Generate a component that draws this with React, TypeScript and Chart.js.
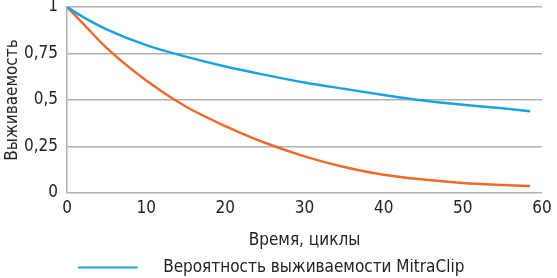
import React, { useEffect, useRef } from "react";
import { Chart, registerables } from "chart.js";

Chart.register(...registerables);

const timeCycles = [0, 2, 5, 10, 15, 20, 25, 30, 35, 40, 45, 50, 55, 58.5];
const mitraClipSurvival = [1, 0.947, 0.88, 0.795, 0.733, 0.68, 0.635, 0.594, 0.56, 0.527, 0.497, 0.474, 0.455, 0.44];
const otherSurvival = [1, 0.912, 0.78, 0.605, 0.465, 0.36, 0.27, 0.197, 0.14, 0.098, 0.072, 0.054, 0.043, 0.037];
const yTicks = [0, 0.25, 0.5, 0.75, 1];
const xTicks = [0, 10, 20, 30, 40, 50, 60];
const legendLabel = "Вероятность выживаемости MitraClip";
const xTitle = "Время, циклы";
const yTitle = "Выживаемость";

const FONT = "'Liberation Sans Narrow', 'DejaVu Sans Condensed', 'Roboto Condensed', 'Liberation Sans', sans-serif";
const BLUE = "#1ca2dc";
const ORANGE = "#ec6a2c";

function makeLegendLine(): HTMLCanvasElement {
  const c = document.createElement("canvas");
  c.width = 77;
  c.height = 4;
  const ctx = c.getContext("2d")!;
  ctx.fillStyle = BLUE;
  ctx.fillRect(0, 1, 60, 2);
  return c;
}

export default function App() {
  const ref = useRef<HTMLCanvasElement | null>(null);
  useEffect(() => {
    if (!ref.current) return;
    const legendLine = makeLegendLine();
    const chart = new Chart(ref.current, {
      type: "line",
      data: {
        datasets: [
          {
            label: legendLabel,
            data: timeCycles.map((x, i) => ({ x, y: mitraClipSurvival[i] })),
            borderColor: BLUE,
            backgroundColor: BLUE,
            borderWidth: 2.5,
            pointRadius: 0,
            cubicInterpolationMode: "monotone",
          },
          {
            label: "other",
            data: timeCycles.map((x, i) => ({ x, y: otherSurvival[i] })),
            borderColor: ORANGE,
            backgroundColor: ORANGE,
            borderWidth: 2.5,
            pointRadius: 0,
            cubicInterpolationMode: "monotone",
          },
        ],
      },
      options: {
        animation: false,
        responsive: false,
        maintainAspectRatio: false,
        layout: { padding: { top: 0, right: 15, left: 0, bottom: -8 } },
        plugins: {
          tooltip: { enabled: false },
          legend: {
            position: "bottom",
            labels: {
              usePointStyle: true,
              pointStyleWidth: 77,
              padding: 0,
              color: "#222",
              font: { family: FONT, size: 17 },
              filter: (item) => item.datasetIndex === 0,
              generateLabels: (chart) =>
                Chart.defaults.plugins.legend.labels
                  .generateLabels(chart)
                  .map((l) => ({ ...l, pointStyle: legendLine as any })),
            },
          },
        },
        scales: {
          x: {
            type: "linear",
            min: 0,
            max: 60,
            afterBuildTicks: (s: any) => {
              s.ticks = xTicks.map((v) => ({ value: v }));
            },
            afterFit: (s: any) => {
              s.height = 66;
            },
            grid: { display: false, drawTicks: false },
            border: { display: false },
            ticks: {
              padding: 5,
              color: "#222",
              font: { family: FONT, size: 17 },
              maxRotation: 0,
            },
            title: {
              display: true,
              text: xTitle,
              color: "#222",
              font: { family: FONT, size: 17 },
              padding: { top: 12, bottom: 8 },
            },
          },
          y: {
            min: 0,
            max: 1,
            afterBuildTicks: (s: any) => {
              s.ticks = yTicks.map((v) => ({ value: v }));
            },
            afterFit: (s: any) => {
              s.width = 67;
              s.paddingTop = 7;
              s.paddingBottom = 0;
            },
            grid: { color: "#b0b0b0", lineWidth: 1.5, drawTicks: false },
            border: { display: true, color: "#b0b0b0", width: 1.5 },
            ticks: {
              padding: 9,
              color: "#222",
              font: { family: FONT, size: 17 },
              callback: (v: any) => String(v).replace(".", ","),
            },
            title: {
              display: true,
              text: yTitle,
              color: "#222",
              font: { family: FONT, size: 17 },
              padding: { top: 2, bottom: 0 },
            },
          },
        },
      },
    });
    return () => chart.destroy();
  }, []);
  return (
    <div style={{ position: "fixed", left: 0, top: 0, width: 557, height: 278, background: "#fff" }}>
      <canvas ref={ref} width={557} height={278} style={{ width: 557, height: 278 }} />
    </div>
  );
}
